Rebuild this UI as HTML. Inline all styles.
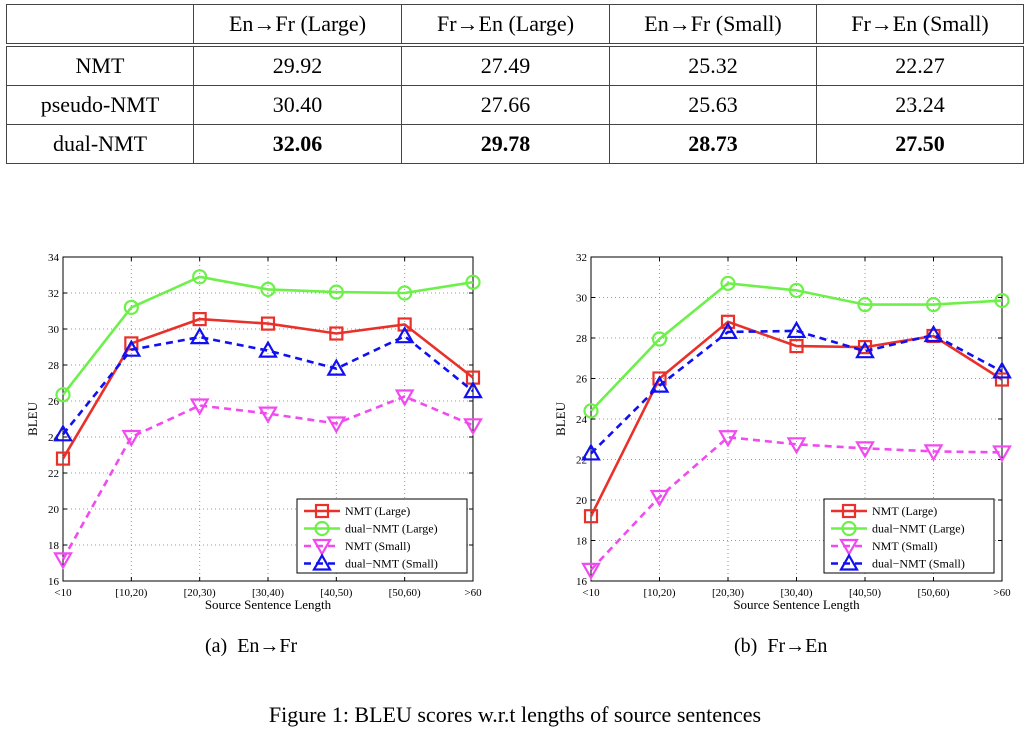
<!DOCTYPE html>
<html><head><meta charset="utf-8"><style>
body{margin:0;background:#fff;width:1030px;height:732px;overflow:hidden;font-family:"Liberation Serif",serif;position:relative}
table{position:absolute;left:6px;top:4px;border-collapse:collapse;font-size:22px}
td{border:1.5px solid #444;text-align:center;height:38px;padding:0}
tr.h td{border-bottom:4px double #444}
.cap{position:absolute;font-size:20px}
svg{position:absolute;left:0;top:0}
</style></head><body>
<table>
<tr class="h"><td style="width:186px"></td><td style="width:207px">En→Fr (Large)</td><td style="width:207px">Fr→En (Large)</td><td style="width:206px">En→Fr (Small)</td><td style="width:206px">Fr→En (Small)</td></tr>
<tr><td>NMT</td><td>29.92</td><td>27.49</td><td>25.32</td><td>22.27</td></tr>
<tr><td>pseudo-NMT</td><td>30.40</td><td>27.66</td><td>25.63</td><td>23.24</td></tr>
<tr><td>dual-NMT</td><td><b>32.06</b></td><td><b>29.78</b></td><td><b>28.73</b></td><td><b>27.50</b></td></tr>
</table>
<div class="cap" style="left:205px;top:635px">(a)&nbsp; En→Fr</div>
<div class="cap" style="left:734px;top:635px">(b)&nbsp; Fr→En</div>
<div class="cap" style="left:0;width:1030px;text-align:center;top:702px;font-size:22px">Figure 1: BLEU scores w.r.t lengths of source sentences</div>
<svg id="s" width="1030" height="732" xmlns="http://www.w3.org/2000/svg"></svg>
<script>
const categories=["<10","[10,20)","[20,30)","[30,40)","[40,50)","[50,60)",">60"];
const seriesNames=["NMT (Large)","dual\u2212NMT (Large)","NMT (Small)","dual\u2212NMT (Small)"];
const a_nmtLarge=[22.8,29.2,30.55,30.3,29.75,30.25,27.3];
const a_dualLarge=[26.35,31.2,32.9,32.2,32.05,32.0,32.6];
const a_nmtSmall=[17.2,24.0,25.75,25.3,24.75,26.25,24.65];
const a_dualSmall=[24.15,28.85,29.55,28.8,27.8,29.6,26.55];
const b_nmtLarge=[19.2,26.0,28.8,27.6,27.55,28.1,25.95];
const b_dualLarge=[24.4,27.95,30.7,30.35,29.65,29.65,29.85];
const b_nmtSmall=[16.55,20.15,23.1,22.75,22.55,22.4,22.35];
const b_dualSmall=[22.3,25.65,28.3,28.35,27.35,28.15,26.35];
const a_ticks=[16,18,20,22,24,26,28,30,32,34];
const b_ticks=[16,18,20,22,24,26,28,30,32];
const NS="http://www.w3.org/2000/svg",S=document.getElementById('s');
function el(t,a,p){const e=document.createElementNS(NS,t);for(const k in a)e.setAttribute(k,a[k]);(p||S).appendChild(e);return e;}
const styles=[{c:"#e8312a",d:"",m:"sq"},{c:"#6ef04a",d:"",m:"ci"},{c:"#f04af0",d:"7,5",m:"dn"},{c:"#1010f0",d:"7,5",m:"up"}];
function marker(g,m,x,y,c){
 if(m=="sq")el('rect',{x:x-6,y:y-6,width:12,height:12,fill:'none',stroke:c,'stroke-width':2.2},g);
 else if(m=="ci")el('circle',{cx:x,cy:y,r:6.5,fill:'none',stroke:c,'stroke-width':2.2},g);
 else if(m=="dn")el('path',{d:`M${x-8},${y-6}L${x+8},${y-6}L${x},${y+8}Z`,fill:'none',stroke:c,'stroke-width':2.2},g);
 else el('path',{d:`M${x-8},${y+6}L${x+8},${y+6}L${x},${y-8}Z`,fill:'none',stroke:c,'stroke-width':2.2},g);
}
function chart(id,L,R,T,B,ticks,series,legX){
 const g=el('g',{});
 
 
 const y0=ticks[0],y1=ticks[ticks.length-1];
 const X=i=>L+(R-L)*i/(categories.length-1), Y=v=>B-(B-T)*(v-y0)/(y1-y0);
 ticks.forEach(t=>{const y=Y(t);
  if(t!=y0&&t!=y1)el('line',{x1:L,x2:R,y1:y,y2:y,stroke:'#999','stroke-dasharray':'1,3','stroke-width':1},g);
  el('line',{x1:L,x2:L+4,y1:y,y2:y,stroke:'#000'},g);el('line',{x1:R,x2:R-4,y1:y,y2:y,stroke:'#000'},g);
  const tx=el('text',{x:L-4,y:y+4,'text-anchor':'end','font-size':11,'font-family':'Liberation Serif'},g);tx.textContent=t;
  });
 categories.forEach((c,i)=>{const x=X(i);
  if(i>0&&i<categories.length-1)el('line',{x1:x,x2:x,y1:T,y2:B,stroke:'#999','stroke-dasharray':'1,3'},g);
  el('line',{x1:x,x2:x,y1:B,y2:B-4,stroke:'#000'},g);el('line',{x1:x,x2:x,y1:T,y2:T+4,stroke:'#000'},g);
  const tx=el('text',{x:x,y:B+15,'text-anchor':'middle','font-size':11,'font-family':'Liberation Serif'},g);tx.textContent=c;
  });
 el('rect',{x:L,y:T,width:R-L,height:B-T,fill:'none',stroke:'#000','stroke-width':1},g);
 const xt=el('text',{x:(L+R)/2,y:B+28,'text-anchor':'middle','font-size':13,'font-family':'Liberation Serif'},g);xt.textContent="Source Sentence Length";
 
 const yt=el('text',{x:0,y:0,'text-anchor':'middle','font-size':13,'font-family':'Liberation Serif',transform:`translate(${L-26},${(T+B)/2}) rotate(-90)`},g);yt.textContent="BLEU";
 
 series.forEach((s,k)=>{const st=styles[k];
  const p=el('polyline',{points:s.map((v,i)=>X(i)+','+Y(v)).join(' '),fill:'none',stroke:st.c,'stroke-width':2.6,'stroke-dasharray':st.d},g);
  
  s.forEach((v,i)=>marker(g,st.m,X(i),Y(v),st.c));});
 const lg=el('g',{},g);
 
 el('rect',{x:legX,y:499,width:170,height:74,fill:'#fff',stroke:'#000','stroke-width':1},lg);
 seriesNames.forEach((n,k)=>{const st=styles[k],y=511+k*17.5;
  el('line',{x1:legX+7,x2:legX+43,y1:y,y2:y,stroke:st.c,'stroke-width':2.6,'stroke-dasharray':st.d},lg);
  marker(lg,st.m,legX+25,y,st.c);
  const t=el('text',{x:legX+48,y:y+4,'font-size':12,'font-family':'Liberation Serif'},lg);t.textContent=n;
  });
}
chart('chart-en-fr',63,473,257,581,a_ticks,[a_nmtLarge,a_dualLarge,a_nmtSmall,a_dualSmall],297);
chart('chart-fr-en',591,1002,257,581,b_ticks,[b_nmtLarge,b_dualLarge,b_nmtSmall,b_dualSmall],824);
</script>
</body></html>
